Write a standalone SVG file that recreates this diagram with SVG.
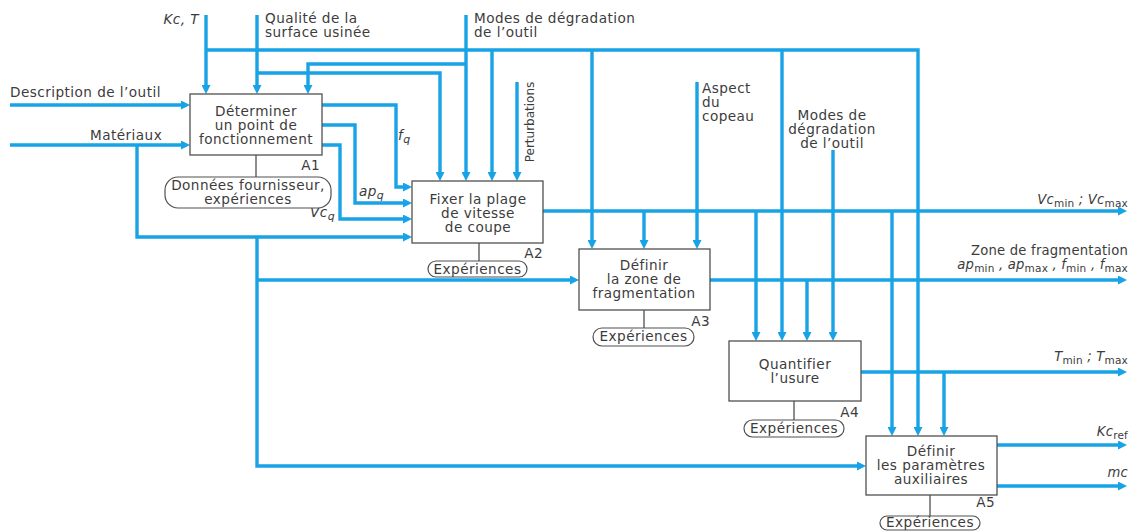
<svg xmlns="http://www.w3.org/2000/svg" width="1131" height="531" viewBox="0 0 1131 531">
<style>
text{font-family:"DejaVu Sans","Liberation Sans",Arial,sans-serif;fill:#3c3c3c;font-size:13.6px;letter-spacing:0.45px}
.c{text-anchor:middle}
.e{text-anchor:end}
.i{font-style:italic}
.r{font-size:13.2px;letter-spacing:0.2px}
.s{font-size:10.5px;font-style:normal}
.si{font-size:11px;font-style:italic}
.box{fill:#fff;stroke:#505050;stroke-width:1.3}
.tun{fill:#fff;stroke:#505050;stroke-width:1.2}
.ml{stroke:#505050;stroke-width:1.3;fill:none}
#connectors path{fill:none;stroke:#17a3e6;stroke-width:3.4}
.a{marker-end:url(#ah)}
</style>
<defs>
<marker id="ah" viewBox="0 0 9 9" markerWidth="9" markerHeight="9" refX="5" refY="4.5" orient="auto" markerUnits="userSpaceOnUse"><path d="M0,0 L9,4.5 L0,9 z" fill="#17a3e6"/></marker>
</defs>
<rect width="1131" height="531" fill="#fff"/>
<g id="connectors">
<path class="a" d="M10,105 H186"/>
<path class="a" d="M10,145 H186"/>
<path class="a" d="M137,145 V237 H408"/>
<path class="a" d="M257,237 V466 H862"/>
<path class="a" d="M257,280 H575"/>
<path class="a" d="M206,15 V90"/>
<path class="a" d="M206,50 H918 V432"/>
<path class="a" d="M492,50 V177"/>
<path class="a" d="M592,50 V245"/>
<path class="a" d="M782,50 V337"/>
<path class="a" d="M257,15 V90"/>
<path class="a" d="M257,73 H440 V177"/>
<path class="a" d="M466,15 V177"/>
<path class="a" d="M466,64 H308 V90"/>
<path class="a" d="M517,82 V177"/>
<path class="a" d="M697,82 V245"/>
<path class="a" d="M833,150 V337"/>
<path class="a" d="M322,105 H396 V187 H408"/>
<path class="a" d="M322,125 H355 V203 H408"/>
<path class="a" d="M322,145 H340 V219 H408"/>
<path class="a" d="M543,211 H1123"/>
<path class="a" d="M644,211 V245"/>
<path class="a" d="M756,211 V337"/>
<path class="a" d="M892,211 V432"/>
<path class="a" d="M710,280 H1123"/>
<path class="a" d="M807,280 V337"/>
<path class="a" d="M861,372 H1123"/>
<path class="a" d="M944,372 V432"/>
<path class="a" d="M997,445 H1123"/>
<path class="a" d="M997,486 H1123"/>
</g>
<g id="labels">
<text x="10" y="97">Description de l’outil</text>
<text x="90" y="140">Matériaux</text>
<text x="199" y="24" class="e i">Kc, T</text>
<text x="265" y="23">Qualité de la</text>
<text x="265" y="37">surface usinée</text>
<text x="474" y="23">Modes de dégradation</text>
<text x="474" y="37">de l’outil</text>
<text x="534" y="122" class="c" style="font-size:12px;letter-spacing:0" transform="rotate(-90 534 122)">Perturbations</text>
<text x="702" y="92.5">Aspect</text>
<text x="702" y="106.5">du</text>
<text x="702" y="120.5">copeau</text>
<text x="832" y="120" class="c">Modes de</text>
<text x="832" y="134" class="c">dégradation</text>
<text x="832" y="148" class="c">de l’outil</text>
<text x="398" y="140" class="i">f<tspan class="si" dy="3">q</tspan></text>
<text x="359" y="196" class="i">ap<tspan class="si" dy="3">q</tspan></text>
<text x="310" y="217" class="i">Vc<tspan class="si" dy="3">q</tspan></text>
<text x="1128" y="204" class="e i r">Vc<tspan class="s" dy="3">min</tspan><tspan dy="-3"> ; Vc</tspan><tspan class="s" dy="3">max</tspan></text>
<text x="1128" y="255" class="e r">Zone de fragmentation</text>
<text x="1128" y="269" class="e i r">ap<tspan class="s" dy="3">min</tspan><tspan dy="-3"> , ap</tspan><tspan class="s" dy="3">max</tspan><tspan dy="-3"> , f</tspan><tspan class="s" dy="3">min</tspan><tspan dy="-3"> , f</tspan><tspan class="s" dy="3">max</tspan></text>
<text x="1128" y="361" class="e i r">T<tspan class="s" dy="3">min</tspan><tspan dy="-3"> ; T</tspan><tspan class="s" dy="3">max</tspan></text>
<text x="1128" y="436" class="e i r">Kc<tspan class="s" dy="3">ref</tspan></text>
<text x="1128" y="477" class="e i r">mc</text>
</g>
<g id="A1">
<rect class="box" x="190" y="94" width="132" height="61"/>
<text x="256" y="116" class="c">Déterminer</text>
<text x="256" y="130" class="c">un point de</text>
<text x="256" y="144" class="c">fonctionnement</text>
<text x="320" y="170" class="e">A1</text>
<path class="ml" d="M256,155 V177"/>
<rect class="tun" x="165" y="177" width="166" height="31" rx="13"/>
<text x="248" y="190" class="c">Données fournisseur,</text>
<text x="248" y="204" class="c">expériences</text>
</g>
<g id="A2">
<rect class="box" x="412" y="181" width="131" height="62"/>
<text x="478" y="204" class="c">Fixer la plage</text>
<text x="478" y="218" class="c">de vitesse</text>
<text x="478" y="232" class="c">de coupe</text>
<text x="543" y="258" class="e">A2</text>
<path class="ml" d="M479,243 V261"/>
<rect class="tun" x="428" y="261" width="99" height="16" rx="8"/>
<text x="477.5" y="274" class="c">Expériences</text>
</g>
<g id="A3">
<rect class="box" x="579" y="249" width="131" height="61"/>
<text x="644" y="270" class="c">Définir</text>
<text x="644" y="284" class="c">la zone de</text>
<text x="644" y="298" class="c">fragmentation</text>
<text x="710" y="326" class="e">A3</text>
<path class="ml" d="M644,310 V328"/>
<rect class="tun" x="593" y="328" width="101" height="18" rx="9"/>
<text x="643.5" y="341" class="c">Expériences</text>
</g>
<g id="A4">
<rect class="box" x="729" y="341" width="132" height="60"/>
<text x="795" y="369" class="c">Quantifier</text>
<text x="795" y="383" class="c">l’usure</text>
<text x="859" y="417" class="e">A4</text>
<path class="ml" d="M794,401 V420"/>
<rect class="tun" x="744" y="420" width="100" height="17" rx="8.5"/>
<text x="794" y="433" class="c">Expériences</text>
</g>
<g id="A5">
<rect class="box" x="866" y="436" width="131" height="59"/>
<text x="931" y="456" class="c">Définir</text>
<text x="931" y="470" class="c">les paramètres</text>
<text x="931" y="484" class="c">auxiliaires</text>
<text x="995" y="507" class="e">A5</text>
<path class="ml" d="M930,495 V516"/>
<rect class="tun" x="880" y="516" width="100" height="14" rx="7"/>
<text x="930" y="527" class="c">Expériences</text>
</g>
</svg>
